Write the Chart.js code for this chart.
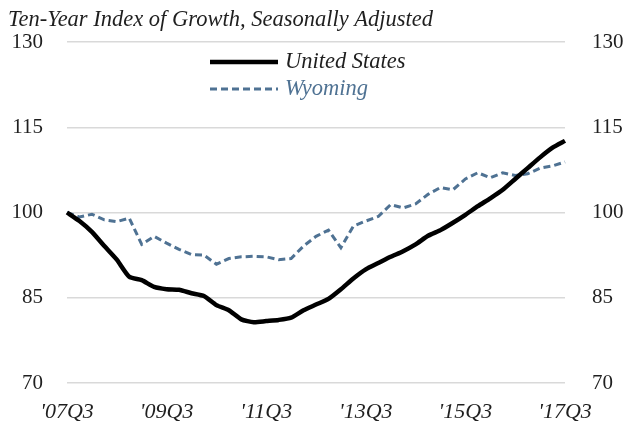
<!DOCTYPE html>
<html>
<head>
<meta charset="utf-8">
<script src="https://cdn.jsdelivr.net/npm/chart.js@4/dist/chart.umd.min.js"></script>
<style>
html,body{margin:0;padding:0;background:#fff;}
#wrap{width:629px;height:430px;position:relative;}
</style>
</head>
<body>
<div id="wrap"><canvas id="c" width="629" height="430"></canvas></div>
<script>
const chartTitle = "Ten-Year Index of Growth, Seasonally Adjusted";
const quarters = ["'07Q3","'07Q4","'08Q1","'08Q2","'08Q3","'08Q4","'09Q1","'09Q2","'09Q3","'09Q4",
  "'10Q1","'10Q2","'10Q3","'10Q4","'11Q1","'11Q2","'11Q3","'11Q4","'12Q1","'12Q2",
  "'12Q3","'12Q4","'13Q1","'13Q2","'13Q3","'13Q4","'14Q1","'14Q2","'14Q3","'14Q4",
  "'15Q1","'15Q2","'15Q3","'15Q4","'16Q1","'16Q2","'16Q3","'16Q4","'17Q1","'17Q2","'17Q3"];
const seriesNames = ["United States", "Wyoming"];
const unitedStates = [100, 98.5, 96.6, 94.1, 91.7, 88.7, 88.1, 86.9, 86.5, 86.4,
  85.8, 85.3, 83.7, 82.8, 81.2, 80.7, 80.9, 81.1, 81.5, 82.8,
  83.8, 84.8, 86.5, 88.4, 90.0, 91.1, 92.2, 93.2, 94.4, 95.9,
  96.9, 98.2, 99.6, 101.1, 102.5, 104.0, 105.9, 107.8, 109.7, 111.4, 112.6];
const wyoming = [100, 99.2, 99.7, 98.7, 98.4, 99.0, 94.4, 95.8, 94.6, 93.5,
  92.6, 92.5, 90.9, 91.9, 92.2, 92.3, 92.2, 91.7, 91.9, 94.1,
  95.8, 96.9, 93.8, 97.6, 98.5, 99.3, 101.4, 100.8, 101.5, 103.2,
  104.4, 104.0, 105.9, 107.0, 106.1, 107.0, 106.5, 106.8, 107.8, 108.2, 108.9];
const yTicks = [70, 85, 100, 115, 130];

const SERIF = "'Liberation Serif', 'DejaVu Serif', serif";
const WY_COLOR = '#4F7293';

const titlePlugin = {
  id: 'titleText',
  afterDraw(chart) {
    const ctx = chart.ctx;
    ctx.save();
    ctx.font = "italic 22.5px " + SERIF;
    ctx.fillStyle = '#1f1f1f';
    ctx.textBaseline = 'alphabetic';
    ctx.textAlign = 'left';
    ctx.fillText(chartTitle, 8, 26);
    ctx.restore();
  }
};

const legendPlugin = {
  id: 'customLegend',
  afterDraw(chart) {
    const ctx = chart.ctx;
    const ys = [62, 89];
    const textColors = ['#1f1f1f', WY_COLOR];
    ctx.save();
    chart.data.datasets.forEach((ds, i) => {
      const y = ys[i];
      ctx.beginPath();
      ctx.strokeStyle = ds.borderColor;
      ctx.lineWidth = ds.borderWidth;
      ctx.setLineDash(ds.borderDash || []);
      ctx.moveTo(210, y);
      ctx.lineTo(278, y);
      ctx.stroke();
      ctx.setLineDash([]);
      ctx.font = "italic 22.5px " + SERIF;
      ctx.fillStyle = textColors[i];
      ctx.textBaseline = 'middle';
      ctx.textAlign = 'left';
      ctx.fillText(ds.label, 285, y);
    });
    ctx.restore();
  }
};

const yAxisCommon = {
  min: 70, max: 130,
  afterBuildTicks(scale) { scale.ticks = yTicks.map(v => ({ value: v })); },
  border: { display: false },
  grid: { color: '#D9D9D9', lineWidth: 1.5, drawTicks: false },
  ticks: { font: { family: SERIF, size: 21 }, color: '#1f1f1f' }
};

new Chart(document.getElementById('c'), {
  type: 'line',
  data: {
    labels: quarters,
    datasets: [
      { label: seriesNames[0], data: unitedStates, borderColor: '#000000', borderWidth: 4.5,
        pointRadius: 0, tension: 0.2, fill: false },
      { label: seriesNames[1], data: wyoming, borderColor: WY_COLOR, borderWidth: 3,
        borderDash: [7, 4], pointRadius: 0, tension: 0, fill: false }
    ]
  },
  options: {
    responsive: false,
    animation: false,
    devicePixelRatio: 1,
    layout: { padding: { top: 42, left: 0, right: 0, bottom: 0 } },
    plugins: { legend: { display: false }, title: { display: false }, tooltip: { enabled: false } },
    scales: {
      x: {
        type: 'category',
        offset: false,
        border: { display: false },
        grid: { display: false, drawTicks: false },
        afterFit(scale) { scale.height = 47; },
        ticks: {
          autoSkip: false, maxRotation: 0, minRotation: 0, padding: 16,
          font: { family: SERIF, size: 22, style: 'italic' }, color: '#1f1f1f',
          callback(v, i) { return i % 8 === 0 ? quarters[i] : ''; }
        }
      },
      y: Object.assign({}, yAxisCommon, {
        position: 'left',
        afterFit(scale) { scale.width = 67; },
        ticks: Object.assign({}, yAxisCommon.ticks, { padding: 24 })
      }),
      y2: Object.assign({}, yAxisCommon, {
        position: 'right',
        grid: { display: false, drawTicks: false },
        afterFit(scale) { scale.width = 64; },
        ticks: Object.assign({}, yAxisCommon.ticks, { padding: 27 })
      })
    }
  },
  plugins: [titlePlugin, legendPlugin]
});
</script>
</body>
</html>
